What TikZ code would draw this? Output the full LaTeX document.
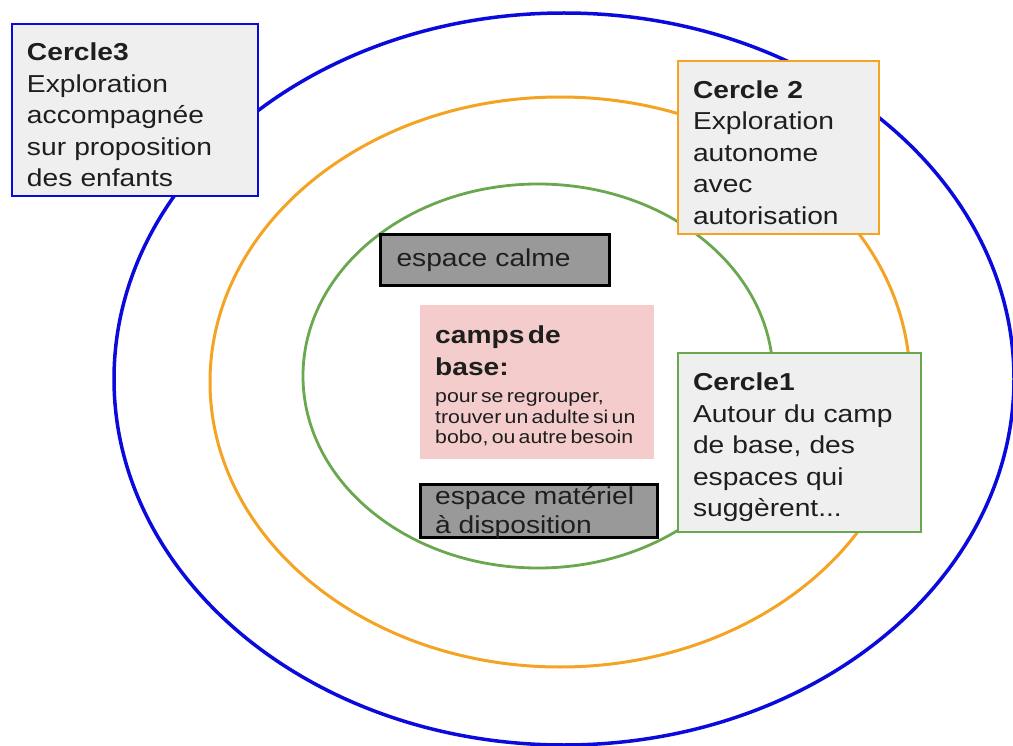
\documentclass[tikz,border=0pt]{standalone}
\usepackage{fontspec}
\setmainfont{Liberation Sans}[FakeStretch=1.15]

\definecolor{ringblue}{HTML}{0A0ADC}
\definecolor{ringorange}{HTML}{F4A323}
\definecolor{ringgreen}{HTML}{6AA84F}
\definecolor{boxgray}{HTML}{EFEFEF}
\definecolor{zonegray}{HTML}{999999}
\definecolor{campred}{HTML}{F4CCCC}
\definecolor{ink}{HTML}{1E1E1E}

\begin{document}
\begin{tikzpicture}[x=1pt, y=-1pt,
	ring/.style={line width=3pt},
	cerclebox/.style={draw, line width=2pt, fill=boxgray, anchor=north west, align=left,
		inner xsep=15pt, inner ysep=0pt, text=ink, font=\fontsize{24.5}{31.5}\selectfont,
		execute at begin node={\rule{0pt}{28pt}}},
	zone/.style={draw=black, line width=3pt, fill=zonegray, anchor=north west, inner sep=0pt},
	zonetext/.style={text=ink, align=left, font=\fontsize{24.5}{29}\selectfont}]

	\useasboundingbox (0,0) rectangle (1013,746);

	\coordinate (c3) at (564, 379);
	\coordinate (c2) at (560, 382);
	\coordinate (c1) at (538, 376);

	% the three rings
	\draw[ring, ringblue, line width=3.5pt] (c3) ellipse [x radius=450, y radius=366];
	\draw[ring, ringorange] (c2) ellipse [x radius=350, y radius=285];
	\draw[ring, ringgreen, line width=2.8pt] (c1) ellipse [x radius=235, y radius=192];

	% labels of the rings
	\node (cercle3) [cerclebox, draw=ringblue, minimum width=246pt, minimum height=172pt, text width=216pt]
		at (11, 23) {\textbf{Cercle3}\\Exploration\\accompagnée\\sur proposition\\des enfants};
	\node (cercle2) [cerclebox, draw=ringorange, minimum width=201pt, minimum height=173pt, text width=171pt]
		at (677, 60) {\textbf{Cercle 2}\\Exploration\\autonome\\avec\\autorisation};
	\node (cercle1) [cerclebox, draw=ringgreen, minimum width=243pt, minimum height=179pt, text width=213pt]
		at (677, 352) {\textbf{Cercle1}\\Autour du camp\\de base, des\\espaces qui\\suggèrent...};

	% inside the green ring
	\node (calme) [zone, zonetext, minimum width=229pt, minimum height=51pt, text width=197pt, inner xsep=16pt]
		at (379, 233) {espace calme};

	\node (camp) [fill=campred, anchor=north west, minimum width=234pt, minimum height=154pt,
		text width=204pt, inner xsep=15pt, inner ysep=0pt, align=left, text=ink]
		at (420, 305) {{\fontsize{24.5}{32}\selectfont\bfseries\rule{0pt}{25pt}camps de\\base:\par}\vspace{7pt}%
		{\fontsize{18.5}{20.5}\selectfont pour se regrouper,\\trouver un adulte si un\\bobo, ou autre besoin\par}};

	\node (materiel) [zone, minimum width=237pt, minimum height=53pt] at (419, 483) {};
	\node (materieltxt) [zonetext, anchor=west, inner sep=0pt] at (435, 513) {espace matériel\\à disposition};

\end{tikzpicture}
\end{document}
